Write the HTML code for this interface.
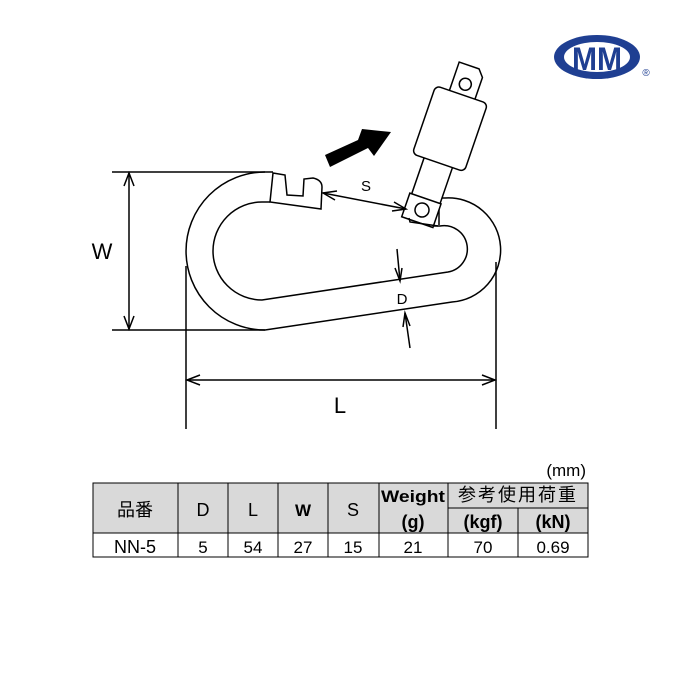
<!DOCTYPE html>
<html><head><meta charset="utf-8"><style>
body{margin:0;background:#fff;}
svg{display:block}
text{font-family:"Liberation Sans","Noto Sans CJK JP",sans-serif;}
</style></head><body>
<svg width="680" height="680" viewBox="0 0 680 680" xmlns="http://www.w3.org/2000/svg">
<!-- logo -->
<ellipse cx="597" cy="57" rx="43" ry="22" fill="#1f3f92"/>
<ellipse cx="597" cy="57" rx="33" ry="15" fill="#fff"/>
<text x="597" y="70" font-size="32" font-weight="bold" fill="#1f3f92" text-anchor="middle" textLength="50" lengthAdjust="spacingAndGlyphs">MM</text>
<text x="646" y="76" font-size="10" fill="#1f3f92" text-anchor="middle">®</text>

<g fill="none" stroke="#000" stroke-width="1.5">
<path d="M273,172 L265,172 A79,79 0 0 0 265,330 L452,302 A52,52 0 0 0 445,198 L439,198 L439,225"/>
<path d="M270,202 L262,202 A49,49 0 0 0 262,300 L448,272 A23,23 0 0 0 440,226 L434,226"/>
<path d="M273,173 L285,175 L287,195 L303,196 L304,179 L313,178 Q322,180 322,187 L321,209 L270,202 Z" fill="#fff"/>
<g transform="rotate(19 422 210)" fill="#fff">
<rect x="407" y="150" width="30" height="70"/>
<path d="M409,58 L430,58 L436,65 L436,92 L409,92 Z"/>
<circle cx="422" cy="77" r="6"/>
<rect x="394.5" y="88" width="55" height="72" rx="5"/>
<rect x="405" y="198" width="33" height="25"/>
<circle cx="422" cy="210" r="7"/>
</g>
<path d="M409,218 L410,222 L438,226"/>
<line x1="112" y1="172" x2="265" y2="172"/>
<line x1="112" y1="330" x2="265" y2="330"/>
<line x1="129" y1="173" x2="129" y2="329"/>
<path d="M124,186 L129,173 L134,186 M124,316 L129,329 L134,316"/>
<line x1="186" y1="266" x2="186" y2="429"/>
<line x1="496" y1="262" x2="496" y2="429"/>
<line x1="187" y1="380" x2="495" y2="380"/>
<path d="M200,375 L187,380 L200,385 M482,375 L495,380 L482,385"/>
<line x1="323" y1="193" x2="406" y2="209"/>
<path d="M337,191 L323,193 L335,200 M394,202 L406,209 L392,211"/>
<line x1="397" y1="249" x2="400" y2="281"/>
<path d="M395,268 L400,281 L402,268"/>
<line x1="410" y1="348" x2="405" y2="313"/>
<path d="M403,327 L405,313 L410,326"/>
</g>
<polygon points="325,155 358,140 362,129 391,132 374,156 368,148 330,167" fill="#000"/>
<text x="366" y="191" font-size="15" text-anchor="middle">S</text>
<text x="402" y="304" font-size="15" text-anchor="middle">D</text>
<text x="102" y="259" font-size="22" text-anchor="middle">W</text>
<text x="340" y="413" font-size="22" text-anchor="middle">L</text>

<text x="586" y="476" font-size="17" text-anchor="end">(mm)</text>
<rect x="93" y="483" width="495" height="50" fill="#d9d9d9" stroke="#000"/>
<rect x="93" y="533" width="495" height="24" fill="#fff" stroke="#000"/>
<g stroke="#000" stroke-width="1">
<line x1="178" y1="483" x2="178" y2="557"/>
<line x1="228" y1="483" x2="228" y2="557"/>
<line x1="278" y1="483" x2="278" y2="557"/>
<line x1="328" y1="483" x2="328" y2="557"/>
<line x1="379" y1="483" x2="379" y2="557"/>
<line x1="448" y1="483" x2="448" y2="557"/>
<line x1="518" y1="508" x2="518" y2="557"/>
<line x1="448" y1="508" x2="588" y2="508"/>
</g>
<g font-size="18" text-anchor="middle">
<text x="135" y="516">品番</text>
<text x="203" y="516">D</text>
<text x="253" y="516">L</text>
<text x="303" y="516" font-weight="bold" font-size="17">W</text>
<text x="353" y="516">S</text>
<text x="413" y="502" font-weight="bold" font-size="17" textLength="64" lengthAdjust="spacingAndGlyphs">Weight</text>
<text x="413" y="528" font-weight="bold">(g)</text>
<text x="518" y="501" letter-spacing="2">参考使用荷重</text>
<text x="483" y="528" font-weight="bold">(kgf)</text>
<text x="553" y="528" font-weight="bold">(kN)</text>
<text x="135" y="553">NN-5</text>
<text x="203" y="553" font-size="17">5</text>
<text x="253" y="553" font-size="17">54</text>
<text x="303" y="553" font-size="17">27</text>
<text x="353" y="553" font-size="17">15</text>
<text x="413" y="553" font-size="17">21</text>
<text x="483" y="553" font-size="17">70</text>
<text x="553" y="553" font-size="17">0.69</text>
</g>
</svg>
</body></html>
